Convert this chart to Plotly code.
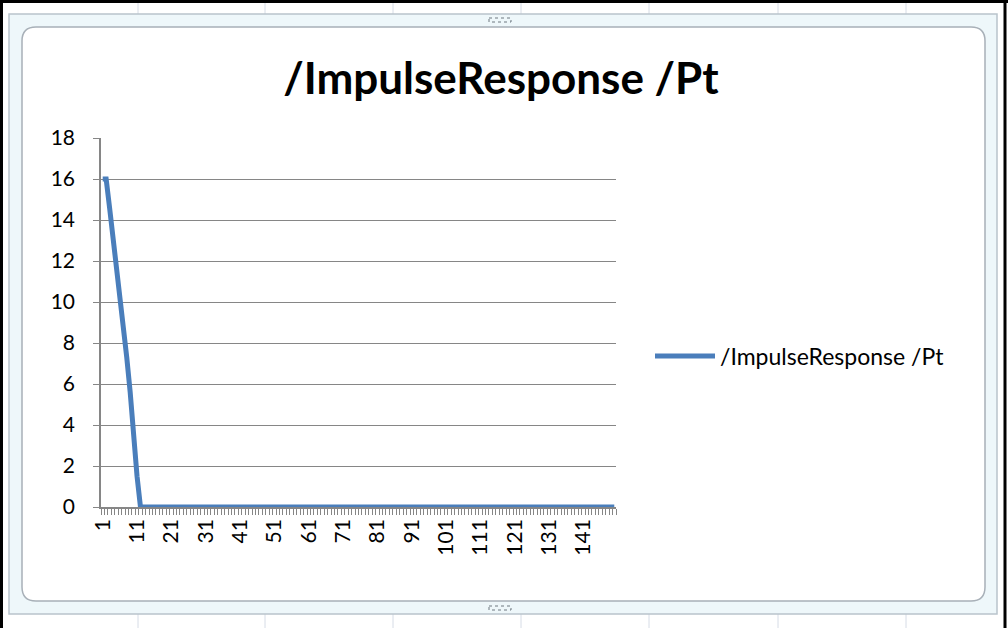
import plotly.graph_objects as go

# ---- data ----
categories = list(range(1, 151))
head_values = [16, 16, 14.6, 13.2, 11.8, 10.3, 8.8, 7.3, 5.6, 3.2, 1.5, 0]
series_values = head_values + [0] * (len(categories) - len(head_values))
x_tick_labels = [str(c) for c in categories if (c - 1) % 10 == 0]
x_tick_vals = [c for c in categories if (c - 1) % 10 == 0]
y_ticks = list(range(0, 19, 2))
series_name = "/ImpulseResponse /Pt"
title_text = "/ImpulseResponse /Pt"

W, H = 1008, 628
L, R, T, B = 101, 392, 138, 121
PW, PH = W - L - R, H - T - B

def px(x):
    return (x - L) / PW

def py(y):
    return (H - B - y) / PH

FONT = "Lato"
BLUE = "#4A7EBB"
GRID = "#868686"

fig = go.Figure()
fig.add_trace(go.Scatter(
    x=categories, y=series_values, mode="lines", name=series_name,
    line=dict(color=BLUE, width=5), showlegend=True,
))

shapes = []
# spreadsheet background gridlines (visible around chart frame)
for gx in [138, 265, 393, 521, 649, 778, 906]:
    shapes.append(dict(type="line", xref="paper", yref="paper", x0=px(gx), x1=px(gx),
                       y0=py(0), y1=py(H), line=dict(color="#d6dce6", width=1), layer="below"))
# outer chart frame
shapes.append(dict(type="rect", xref="paper", yref="paper", x0=px(9), x1=px(997), y0=py(14), y1=py(614),
                   fillcolor="#eef7fa", line=dict(color="#b9c4cc", width=1.5), layer="below"))
# inner white area (rounded)
x0i, x1i, y0i, y1i, r = 22, 985, 27, 601, 14
path = (f"M {px(x0i+r)},{py(y0i)} L {px(x1i-r)},{py(y0i)} Q {px(x1i)},{py(y0i)} {px(x1i)},{py(y0i+r)} "
        f"L {px(x1i)},{py(y1i-r)} Q {px(x1i)},{py(y1i)} {px(x1i-r)},{py(y1i)} "
        f"L {px(x0i+r)},{py(y1i)} Q {px(x0i)},{py(y1i)} {px(x0i)},{py(y1i-r)} "
        f"L {px(x0i)},{py(y0i+r)} Q {px(x0i)},{py(y0i)} {px(x0i+r)},{py(y0i)} Z")
shapes.append(dict(type="path", xref="paper", yref="paper", path=path, fillcolor="white",
                   line=dict(color="#a8b0b8", width=1.5), layer="below"))
# black window border
for (a, b, c, d) in [(1.5, 0, 1.5, H), (1005, 0, 1005, H), (0, 1.5, W, 1.5)]:
    shapes.append(dict(type="line", xref="paper", yref="paper", x0=px(a), x1=px(c), y0=py(b), y1=py(d),
                       line=dict(color="black", width=3), layer="above"))
# handle dots
for (hx, hy) in [(500, 20), (500, 608)]:
    shapes.append(dict(type="rect", xref="paper", yref="paper", x0=px(hx - 11), x1=px(hx + 11),
                       y0=py(hy - 2), y1=py(hy + 2), fillcolor="rgba(0,0,0,0)",
                       line=dict(color="#6f7880", width=1, dash="dot"), layer="above"))

fig.update_layout(
    width=W, height=H,
    margin=dict(l=L, r=R, t=T, b=B),
    paper_bgcolor="white", plot_bgcolor="rgba(0,0,0,0)",
    title=dict(text=f"<b>{title_text}</b>", x=0.497, xanchor="center", y=1 - 79 / H, yanchor="middle",
               font=dict(family=FONT, size=44, color="black")),
    font=dict(family=FONT, color="black"),
    showlegend=True,
    legend=dict(x=px(650), xanchor="left", y=py(356), yanchor="middle",
                font=dict(family=FONT, size=23, color="black"), bgcolor="rgba(0,0,0,0)",
                itemwidth=60),
    xaxis=dict(
        range=[0.5, len(categories) + 0.5], tickmode="array", tickvals=x_tick_vals, ticktext=x_tick_labels,
        tickangle=-90, ticks="", showgrid=False, zeroline=False,
        showline=True, linecolor=GRID, linewidth=1.5,
        tickfont=dict(family=FONT, size=21, color="black"), ticklabelstandoff=2,
        minor=dict(ticks="outside", tick0=0.5, dtick=1, ticklen=6, tickcolor=GRID, tickwidth=1, showgrid=False),
    ),
    yaxis=dict(
        range=[0, 18], tickmode="array", tickvals=y_ticks, ticks="outside", ticklen=6, tickcolor=GRID,
        showgrid=True, gridcolor=GRID, gridwidth=1.2, zeroline=False,
        showline=True, linecolor=GRID, linewidth=1.5,
        tickfont=dict(family=FONT, size=21, color="black"), ticklabelstandoff=14,
    ),
    shapes=shapes,
)

fig.write_html("out.html", config={"displayModeBar": False},
               post_script="document.body.style.margin='0';document.body.style.overflow='hidden';")
